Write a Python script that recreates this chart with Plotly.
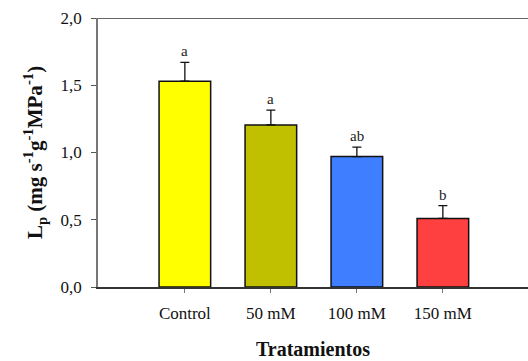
import plotly.graph_objects as go

# Hydraulic conductance by salt treatment
treatments = ["Control", "50 mM", "100 mM", "150 mM"]
lp_mean = [1.53, 1.205, 0.97, 0.51]
lp_se = [0.14, 0.11, 0.07, 0.095]
letters = ["a", "a", "ab", "b"]
bar_colors = ["#FFFF00", "#C0C000", "#3F7FFF", "#FF4040"]
y_ticks = [0.0, 0.5, 1.0, 1.5, 2.0]
y_tick_text = ["0,0", "0,5", "1,0", "1,5", "2,0"]

serif = "Liberation Serif, Times New Roman, serif"
x_idx = list(range(len(treatments)))

fig = go.Figure()
fig.add_trace(go.Bar(
    x=x_idx,
    y=lp_mean,
    width=0.6,
    marker=dict(color=bar_colors, line=dict(color="#111111", width=1.5)),
    error_y=dict(type="data", array=lp_se, arrayminus=[0] * len(lp_se),
                 symmetric=False, color="#111111", thickness=1.3, width=4.5),
    showlegend=False,
))

for i, (m, s, t) in enumerate(zip(lp_mean, lp_se, letters)):
    fig.add_annotation(x=i, y=m + s, text=t, showarrow=False, yanchor="bottom",
                       yshift=1, font=dict(family=serif, size=15, color="#222222"))

# top frame line
fig.add_shape(type="line", xref="paper", yref="y", x0=0, x1=1, y0=2.0, y1=2.0,
              line=dict(color="#333333", width=1.5))

fig.update_layout(
    width=528, height=361,
    margin=dict(l=98, r=0, t=18, b=74),
    plot_bgcolor="white", paper_bgcolor="white",
    bargap=0.4,
    xaxis=dict(
        range=[-1.01, 3.99],
        tickmode="array", tickvals=x_idx, ticktext=treatments,
        ticks="outside", ticklen=4, tickcolor="#777777", tickwidth=1,
        ticklabelstandoff=6,
        showline=True, linecolor="#333333", linewidth=1.5,
        showgrid=False, zeroline=False,
        tickfont=dict(family=serif, size=17, color="#111111"),
        title=dict(text="<b>Tratamientos</b>", standoff=20,
                   font=dict(family=serif, size=20, color="#111111")),
    ),
    yaxis=dict(
        range=[0, 2.0],
        tickmode="array", tickvals=y_ticks, ticktext=y_tick_text,
        ticks="outside", ticklen=5, tickcolor="#555555", tickwidth=1,
        ticklabelstandoff=6,
        showline=True, linecolor="#777777", linewidth=1.5,
        showgrid=False, zeroline=False,
        tickfont=dict(family=serif, size=17, color="#111111"),
        title=dict(text="<b>L<sub>p</sub> (mg s<sup>-1</sup>g<sup>-1</sup>MPa<sup>-1</sup>)</b>",
                   standoff=12,
                   font=dict(family=serif, size=21, color="#111111")),
    ),
)

fig.write_html("out.html")
